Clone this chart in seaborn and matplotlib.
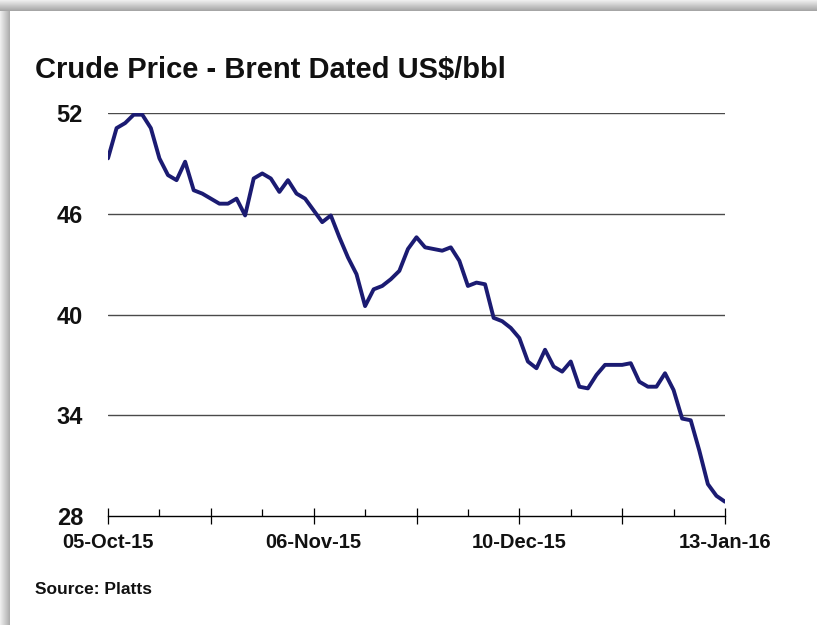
import matplotlib
matplotlib.use("Agg")
import matplotlib.pyplot as plt
from matplotlib.patches import Rectangle
from matplotlib.ticker import FixedLocator, FixedFormatter
import numpy as np
import pandas as pd
import seaborn as sns

# ---- data (one value per trading day) ----
day_index = list(range(73))
brent_price = [
    49.3, 51.1, 51.4, 51.9, 51.9, 51.1, 49.3, 48.3, 48.0, 49.1,
    47.4, 47.2, 46.9, 46.6, 46.6, 46.9, 45.9, 48.1, 48.4, 48.1,
    47.3, 48.0, 47.2, 46.9, 46.2, 45.5, 45.9, 44.6, 43.4, 42.4,
    40.5, 41.5, 41.7, 42.1, 42.6, 43.9, 44.6, 44.0, 43.9, 43.8,
    44.0, 43.2, 41.7, 41.9, 41.8, 39.8, 39.6, 39.2, 38.6, 37.2,
    36.8, 37.9, 36.9, 36.6, 37.2, 35.7, 35.6, 36.4, 37.0, 37.0,
    37.0, 37.1, 36.0, 35.7, 35.7, 36.5, 35.5, 33.8, 33.7, 31.9,
    29.9, 29.2, 28.85,
]
major_tick_pos = [0, 12, 24, 36, 48, 60, 72]
major_tick_labels = ["05-Oct-15", "", "06-Nov-15", "", "10-Dec-15", "", "13-Jan-16"]
minor_tick_pos = [6, 18, 30, 42, 54, 66]
y_ticks = [28, 34, 40, 46, 52]
title_text = "Crude Price - Brent Dated US$/bbl"
source_text = "Source: Platts"

df = pd.DataFrame({"day": day_index, "price": brent_price})

sns.set_theme(style="white")
plt.rcParams["font.family"] = ["Liberation Sans", "DejaVu Sans"]

fig = plt.figure(figsize=(8.17, 6.25), dpi=100)
fig.patch.set_facecolor("white")

W, H = 817.0, 625.0

# photo-frame shadow bands (top and left)
band = 11
for i in range(band):
    g = 0.93 - 0.28 * (i / (band - 1))
    fig.add_artist(Rectangle((0, 1 - (i + 1) / H), 1, 1 / H,
                             transform=fig.transFigure, color=(g, g, g),
                             lw=0, zorder=0))
for i in range(10):
    g = 0.93 - 0.25 * (i / 9)
    fig.add_artist(Rectangle((i / W, 0), 1 / W, 1 - band / H,
                             transform=fig.transFigure, color=(g, g, g),
                             lw=0, zorder=0))

ax = fig.add_axes([108 / W, 1 - 516 / H, (725 - 108) / W, (516 - 113) / H])
ax.set_facecolor("none")

sns.lineplot(data=df, x="day", y="price", ax=ax, color="#1b1b72",
             linewidth=2.8, zorder=3)

ax.set_xlim(0, 72)
ax.set_ylim(28, 52)
ax.set_xlabel("")
ax.set_ylabel("")

for s in ["top", "right", "left"]:
    ax.spines[s].set_visible(False)
ax.spines["bottom"].set_color("black")
ax.spines["bottom"].set_linewidth(1.0)

ax.set_yticks(y_ticks)
ax.set_yticklabels([str(v) for v in y_ticks])
for v in y_ticks[1:]:
    ax.axhline(v, color="#4a4a4a", lw=1.0, zorder=1)

ax.xaxis.set_major_locator(FixedLocator(major_tick_pos))
ax.xaxis.set_major_formatter(FixedFormatter(major_tick_labels))
ax.xaxis.set_minor_locator(FixedLocator(minor_tick_pos))

ax.tick_params(axis="x", which="major", direction="inout", length=12,
               width=0.9, color="black", bottom=True, pad=6,
               labelsize=14.5, labelcolor="#111111")
ax.tick_params(axis="x", which="minor", direction="in", length=5,
               width=0.9, color="black", bottom=True)
ax.tick_params(axis="y", which="major", length=0, pad=18,
               labelsize=17, labelcolor="#111111")
for lab in ax.get_xticklabels() + ax.get_yticklabels():
    lab.set_fontweight("bold")

fig.text(35 / W, 1 - 70 / H, title_text, ha="left", va="center",
         fontsize=21, fontweight="bold", color="#111111")
fig.text(35 / W, 1 - 590 / H, source_text, ha="left", va="center",
         fontsize=12.5, fontweight="bold", color="#111111")

fig.savefig("out.png", dpi=100)
